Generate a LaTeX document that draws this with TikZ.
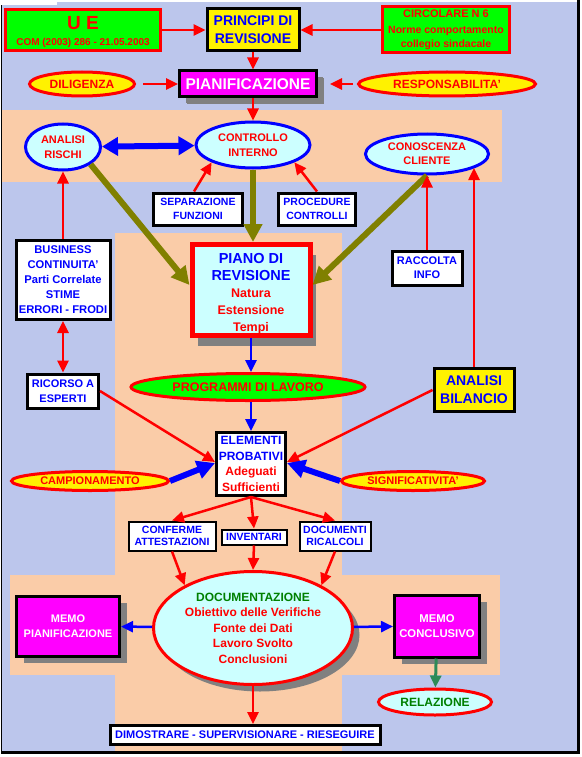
\documentclass[tikz,border=0pt]{standalone}
\usepackage{fontspec}
\setmainfont{Liberation Sans}
\usetikzlibrary{arrows.meta, positioning, shapes.geometric, shadows}
\definecolor{lavender}{RGB}{188,198,236}
\definecolor{peach}{RGB}{250,204,168}
\definecolor{palecyan}{RGB}{204,255,255}
\definecolor{olivearrow}{RGB}{128,128,0}
\definecolor{docgreen}{RGB}{0,128,0}
\definecolor{seagreen}{RGB}{46,139,87}
\definecolor{fuchsia}{RGB}{255,0,255}

\begin{document}
\begin{tikzpicture}[x=1pt,y=-1pt,>={Triangle[length=12pt,width=11pt]},font=\bfseries]
    \tikzstyle{box}=[rectangle,draw=black,line width=3pt,fill=white,inner sep=0pt,align=center]
    \tikzstyle{greenbox}=[box,draw=red,fill=green,text=red]
    \tikzstyle{infobox}=[box,text=blue,font=\bfseries\fontsize{10.5}{14.5}\selectfont]
    \tikzstyle{memo}=[box,fill=fuchsia,text=white,drop shadow={shadow xshift=7pt,shadow yshift=-7pt,fill=gray,opacity=1}]
    \tikzstyle{oval}=[ellipse,draw=red,line width=3pt,fill=yellow,text=red,inner sep=0pt,align=center]
    \tikzstyle{bubble}=[oval,draw=blue,fill=palecyan]
    \tikzstyle{redarrow}=[->,red,line width=2.5pt]
    \tikzstyle{bluearrow}=[->,blue,line width=2.5pt]
    \tikzstyle{fatarrow}=[-{Triangle[length=18pt,width=18pt]},line width=6pt]

    \useasboundingbox (0,0) rectangle (581,757);
    % Background and coloured bands
    \fill[white] (0,0) rectangle (581,757);
    \fill[lavender] (2,2) rectangle (577,751);
    \fill[white] (0,0) rectangle (57,5);
    \fill[black] (0.5,5) rectangle (2,753);
    \fill[black] (0.5,751) rectangle (577,754);
    \fill[black] (577,0) rectangle (580,754);
    \fill[peach] (2,110) rectangle (502,182);
    \fill[peach] (115,233) rectangle (342,751);
    \fill[peach] (10,575) rectangle (500,675);

    % Top rows
    \node[greenbox,minimum width=155,minimum height=41] (ue) at (83,30)
        {\rule{0pt}{17pt}{\fontsize{19}{19}\selectfont U E}\\[4pt]{\fontsize{10}{12}\selectfont COM (2003) 286 - 21.05.2003}};
    \node[box,fill=yellow,text=blue,font=\bfseries\fontsize{14}{18}\selectfont,minimum width=92,minimum height=42] (principi) at (253,30) {PRINCIPI DI\\REVISIONE};
    \node[greenbox,minimum width=127,minimum height=46,font=\bfseries\fontsize{10.5}{14.5}\selectfont] (circolare) at (446,30)
        {{\fontsize{11}{14}\selectfont CIRCOLARE N 6}\\[1pt]Norme comportamento\\collegio sindacale};
    \node[oval,minimum width=105,minimum height=24,font=\bfseries\fontsize{12}{14}\selectfont] (diligenza) at (82,84) {DILIGENZA};
    \node[memo,font=\bfseries\fontsize{15.5}{18}\selectfont,minimum width=137,minimum height=26,drop shadow={shadow xshift=6pt,shadow yshift=-6pt,fill=gray,opacity=1}] (pianif) at (248,84) {PIANIFICAZIONE};
    \node[oval,minimum width=177,minimum height=24,font=\bfseries\fontsize{12}{14}\selectfont] (resp) at (447,84) {RESPONSABILITA'};

    % Risk, control and client
    \node[bubble,minimum width=75,minimum height=46,font=\bfseries\fontsize{11}{15}\selectfont] (analisi) at (63,147) {ANALISI\\RISCHI};
    \node[bubble,minimum width=114,minimum height=46,font=\bfseries\fontsize{11}{15}\selectfont] (controllo) at (253,145) {CONTROLLO\\INTERNO};
    \node[bubble,minimum width=123,minimum height=40,font=\bfseries\fontsize{11}{14}\selectfont] (conoscenza) at (427,154) {CONOSCENZA\\CLIENTE};
    \node[infobox,minimum width=89,minimum height=32] (separazione) at (198,209) {SEPARAZIONE\\FUNZIONI};
    \node[infobox,minimum width=77,minimum height=32] (procedure) at (317,209) {PROCEDURE\\CONTROLLI};

    % Middle part
    \node[infobox,font=\bfseries\fontsize{11.2}{15}\selectfont,minimum width=94,minimum height=79] (business) at (63,280)
        {BUSINESS\\CONTINUITA'\\Parti Correlate\\STIME\\ERRORI - FRODI};
    \node[box,draw=red,line width=5pt,fill=palecyan,text=red,minimum width=118,minimum height=91,
          font=\bfseries\fontsize{12.5}{17}\selectfont,drop shadow={shadow xshift=6pt,shadow yshift=-10pt,fill=gray,opacity=1}] (piano) at (251,290)
        {\rule{0pt}{18pt}\textcolor{blue}{\fontsize{14.5}{17}\selectfont PIANO DI}\\\textcolor{blue}{\fontsize{14.5}{17}\selectfont REVISIONE}\\Natura\\Estensione\\Tempi};
    \node[infobox,font=\bfseries\fontsize{11}{14}\selectfont,minimum width=70,minimum height=34] (raccolta) at (427,268) {RACCOLTA\\INFO};
    \node[infobox,font=\bfseries\fontsize{11}{15}\selectfont,minimum width=71,minimum height=34] (ricorso) at (63,391) {RICORSO A\\ESPERTI};
    \node[oval,fill=green,minimum width=234,minimum height=27,font=\bfseries\fontsize{12.5}{15}\selectfont] (programmi) at (248,387) {PROGRAMMI DI LAVORO};
    \node[box,fill=yellow,text=blue,minimum width=80,minimum height=43,font=\bfseries\fontsize{14}{18}\selectfont] (bilancio) at (474,390) {ANALISI\\BILANCIO};
    \node[box,text=red,minimum width=69,minimum height=63,font=\bfseries\fontsize{12}{15.5}\selectfont] (elementi) at (251,464)
        {\textcolor{blue}{ELEMENTI}\\\textcolor{blue}{PROBATIVI}\\Adeguati\\Sufficienti};
    \node[oval,minimum width=157,minimum height=19,font=\bfseries\fontsize{11}{13}\selectfont] (campionamento) at (90,481) {CAMPIONAMENTO};
    \node[oval,minimum width=143,minimum height=19,font=\bfseries\fontsize{11}{13}\selectfont] (significativita) at (413,481) {SIGNIFICATIVITA'};

    % Evidence sources
    \node[infobox,line width=2pt,minimum width=87,minimum height=29,font=\bfseries\fontsize{10.5}{12.7}\selectfont] (conferme) at (172,536) {CONFERME\\ATTESTAZIONI};
    \node[infobox,line width=2pt,minimum width=65,minimum height=15,font=\bfseries\fontsize{10.5}{12.7}\selectfont] (inventari) at (254,537) {INVENTARI};
    \node[infobox,line width=2pt,minimum width=71,minimum height=29,font=\bfseries\fontsize{10.5}{12.7}\selectfont] (documenti) at (335,536) {DOCUMENTI\\RICALCOLI};

    % Documentation and reports
    \node[oval,fill=palecyan,minimum width=199,minimum height=113,font=\bfseries\fontsize{12}{15.5}\selectfont,
          drop shadow={shadow xshift=7pt,shadow yshift=-7pt,fill=gray,opacity=1}] (documentazione) at (253,628)
        {\textcolor{docgreen}{DOCUMENTAZIONE}\\Obiettivo delle Verifiche\\Fonte dei Dati\\Lavoro Svolto\\Conclusioni};
    \node[memo,minimum width=103,minimum height=60,font=\bfseries\fontsize{11}{15}\selectfont] (memopian) at (68,626) {MEMO\\PIANIFICAZIONE};
    \node[memo,minimum width=85,minimum height=62,font=\bfseries\fontsize{11.3}{15}\selectfont] (memoconc) at (437,626) {MEMO\\CONCLUSIVO};
    \node[oval,fill=palecyan,text=docgreen,minimum width=113,minimum height=26,font=\bfseries\fontsize{12}{14}\selectfont] (relazione) at (435,702) {RELAZIONE};
    \node[infobox,minimum width=270,minimum height=19,font=\bfseries\fontsize{11}{13}\selectfont] (dimostrare) at (245,735) {DIMOSTRARE - SUPERVISIONARE - RIESEGUIRE};

    % Connectors at the top
    \draw[redarrow] (ue) -- (principi);
    \draw[redarrow] (circolare) -- (principi);
    \draw[redarrow] (principi.south) -- (principi.south |- pianif.north);
    \draw[redarrow,shorten <=7pt] (diligenza) -- (pianif);
    \draw[redarrow,shorten <=4pt,shorten >=12pt] (resp) -- (pianif);
    \draw[redarrow] (pianif.south -| controllo.north) -- (controllo.north);
    \draw[fatarrow,blue,{Triangle[length=16pt,width=18pt]}-{Triangle[length=16pt,width=18pt]}] (analisi) -- (controllo);
    \draw[redarrow] ([xshift=-4pt]separazione.north) -- (controllo.south west);
    \draw[redarrow] (procedure.north) -- (controllo.south east);

    % Into the audit plan
    \draw[fatarrow,olivearrow] (analisi.south east) -- ([yshift=5pt]piano.west);
    \draw[fatarrow,olivearrow] (controllo.south) -- (controllo.south |- piano.north);
    \draw[fatarrow,olivearrow] (conoscenza.south) -- ([yshift=5pt]piano.east);
    \draw[redarrow] (business) -- (analisi);
    \draw[redarrow,<->] (business) -- (ricorso);
    \draw[redarrow] (raccolta) -- (conoscenza);
    \coordinate (bandmark) at (474,168);
    \draw[redarrow] (bilancio) -- (bandmark);

    % Down to the evidence
    \draw[bluearrow] (piano.south) -- (piano.south |- programmi.north);
    \draw[bluearrow] (programmi.south -| elementi.north) -- (elementi.north);
    \draw[redarrow] (ricorso.east) -- ([yshift=2pt]elementi.west);
    \draw[redarrow] (bilancio.west) -- ([yshift=2pt]elementi.east);
    \draw[fatarrow,blue] (campionamento.east) -- ([yshift=1pt]elementi.west);
    \draw[fatarrow,blue] (significativita.west) -- ([yshift=1pt]elementi.east);
    \foreach \dest in {conferme,inventari,documenti}
        \draw[redarrow] (elementi.south) -- (\dest.north);
    \draw[redarrow] (conferme.south) -- (documentazione.148);
    \draw[redarrow] (inventari.south) -- (documentazione.north);
    \draw[redarrow] (documenti.south) -- (documentazione.32);

    % Outputs of the documentation
    \draw[bluearrow] (documentazione) -- (memopian);
    \draw[bluearrow] (documentazione) -- (memoconc);
    \draw[->,seagreen,line width=3pt] (memoconc) -- (relazione);
    \draw[redarrow] (documentazione.south) -- (documentazione.south |- dimostrare.north);
\end{tikzpicture}
\end{document}
